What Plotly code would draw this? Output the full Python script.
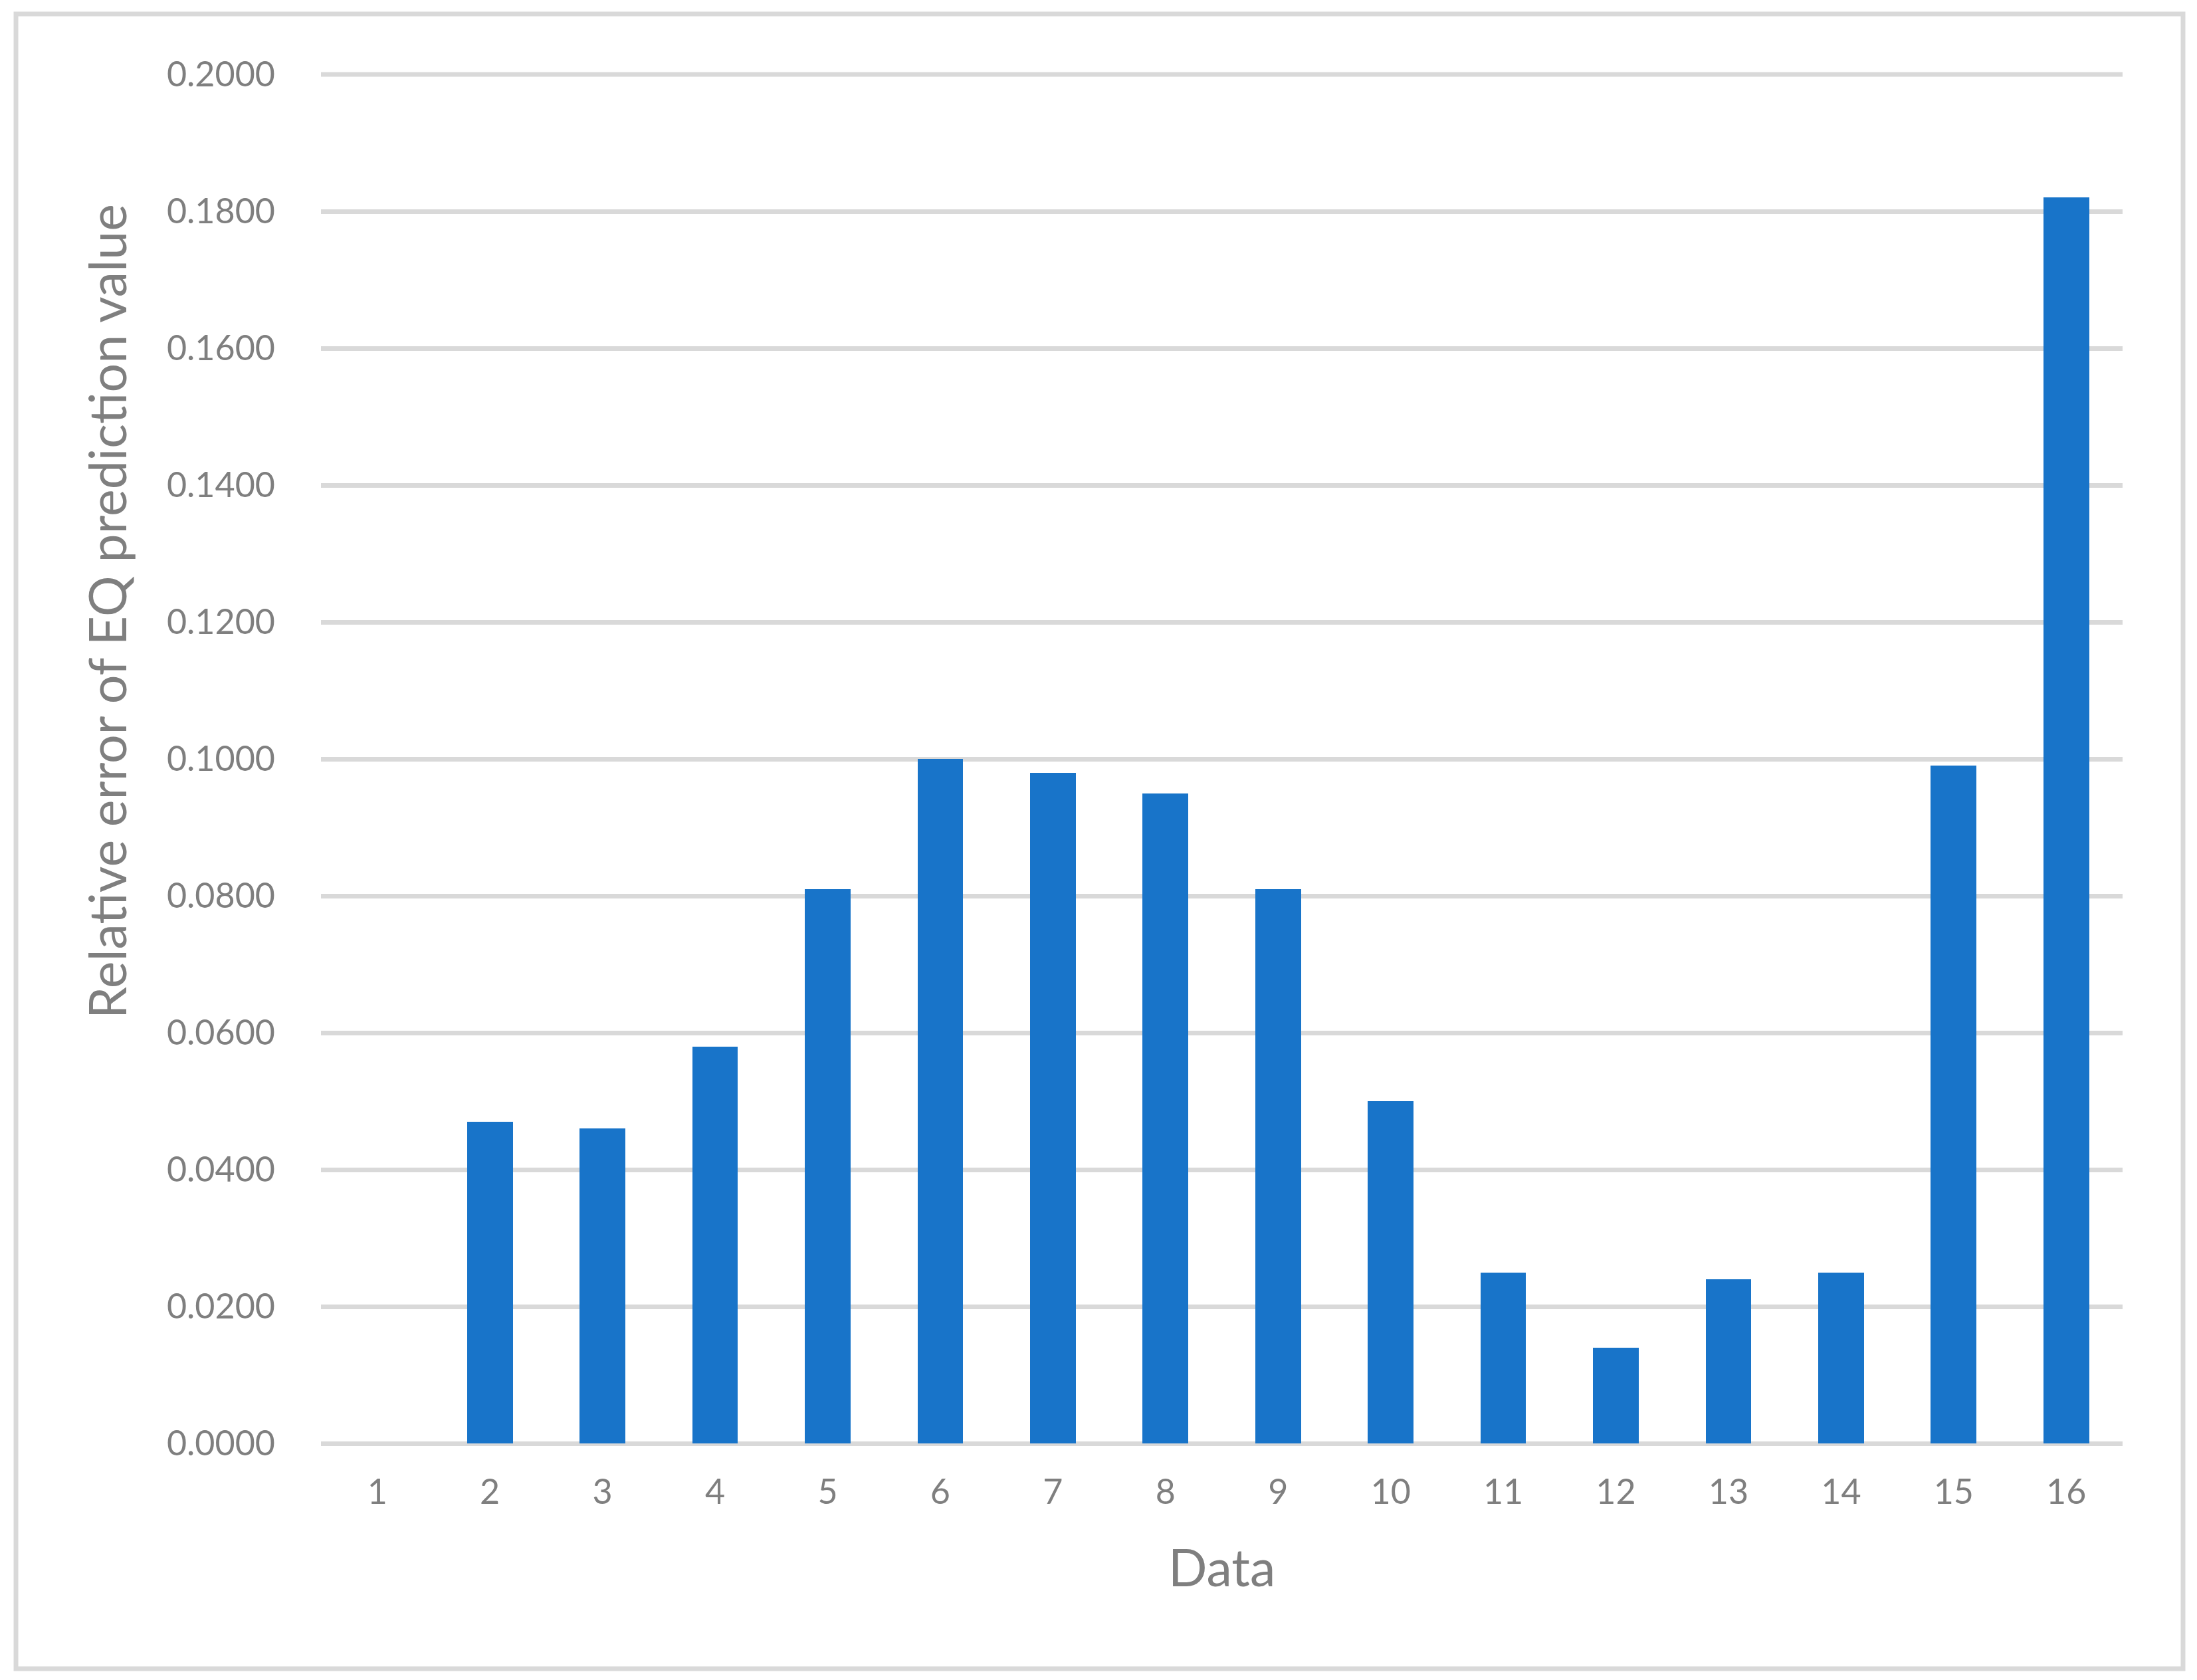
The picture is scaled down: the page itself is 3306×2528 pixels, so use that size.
import plotly.graph_objects as go

# данные
categories = [str(i) for i in range(1, 17)]
rel_error = [0.0, 0.047, 0.046, 0.058, 0.081, 0.100, 0.098, 0.095,
             0.081, 0.050, 0.025, 0.014, 0.024, 0.025, 0.099, 0.182]
y_ticks = [0.0, 0.02, 0.04, 0.06, 0.08, 0.10, 0.12, 0.14, 0.16, 0.18, 0.20]

x_title = 'Data'
y_title = 'Relative error of EQ prediction value'

text_color = '#7F7F7F'
grid_color = '#D9D9D9'
bar_color = '#1874C9'
font_name = 'Lato'

# страница имеет отступ body 8px, поэтому сдвигаем всё на 8px
OFF = 8
W, H = 3306 - OFF, 2528 - OFF
left, right, top, bottom = 483 - OFF, 112, 112 - OFF, 356
pw = W - left - right
ph = H - top - bottom
y0_px = 2172 - OFF  # нижний край области построения

fig = go.Figure()

fig.add_trace(go.Bar(
    x=categories,
    y=rel_error,
    width=0.406,
    marker=dict(color=bar_color, line=dict(width=0)),
))

fig.update_layout(
    width=W,
    height=H,
    margin=dict(l=left, r=right, t=top, b=bottom, pad=0),
    paper_bgcolor='white',
    plot_bgcolor='white',
    showlegend=False,
    bargap=0,
    font=dict(family=font_name, color=text_color),
)

fig.update_xaxes(
    type='category',
    showgrid=False,
    showline=False,
    zeroline=False,
    ticks='',
    ticklabelstandoff=38,
    tickfont=dict(size=52, color=text_color, family=font_name),
)

fig.update_yaxes(
    range=[0, max(y_ticks)],
    tickvals=y_ticks,
    tickformat='.4f',
    showgrid=True,
    gridcolor=grid_color,
    gridwidth=7,
    zeroline=True,
    zerolinecolor=grid_color,
    zerolinewidth=7,
    showline=False,
    ticks='',
    ticklabelstandoff=68,
    tickfont=dict(size=52, color=text_color, family=font_name),
)

# plotly не рисует линию сетки на самом краю диапазона - добавляем её вручную
fig.add_shape(
    type='line', xref='paper', yref='paper',
    x0=0, x1=1, y0=1, y1=1,
    line=dict(color=grid_color, width=7),
    layer='below',
)

# подписи осей
fig.add_annotation(
    text=x_title, xref='paper', yref='paper',
    x=0.5, y=(y0_px - (2357 - OFF)) / ph,
    xanchor='center', yanchor='middle', showarrow=False,
    font=dict(size=77, color=text_color, family=font_name),
)
fig.add_annotation(
    text=y_title, xref='paper', yref='paper',
    x=(160 - OFF - left) / pw, y=(y0_px - (920 - OFF)) / ph,
    xanchor='center', yanchor='middle', showarrow=False, textangle=-90,
    font=dict(size=77, color=text_color, family=font_name),
)

# рамка диаграммы
fig.add_shape(
    type='rect', xref='paper', yref='paper',
    x0=(24 - OFF - left) / pw, x1=(3285 - OFF - left) / pw,
    y0=(y0_px - (2511 - OFF)) / ph, y1=(y0_px - (21 - OFF)) / ph,
    line=dict(color=grid_color, width=7),
    fillcolor='rgba(0,0,0,0)',
    layer='below',
)

fig.write_html('out.html')
